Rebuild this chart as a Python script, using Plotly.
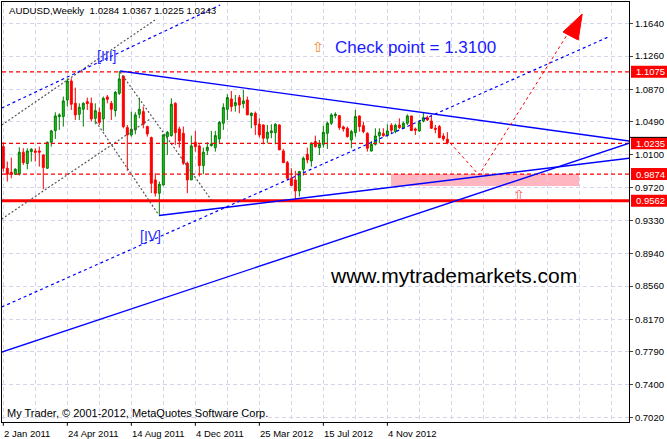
import plotly.graph_objects as go

# ---------------- data ----------------
bars = list(range(112))  # weekly bars, bar 0 = 2 Jan 2011
opens = [1.0197,0.9943,0.9896,0.9873,0.9873,1.0131,0.9998,1.0138,1.0146,1.0146,
         1.0099,0.9943,1.0248,1.0385,1.0549,1.0549,1.0744,1.0967,1.0705,1.0576,
         1.0635,1.0725,1.0705,1.0529,1.0600,1.0522,1.0780,1.0705,1.0619,1.0823,
         1.1026,1.0420,1.0334,1.0393,1.0576,1.0608,1.0432,1.0303,0.9806,0.9650,
         0.9747,1.0314,1.0326,1.0705,1.0404,1.0353,1.0002,0.9806,1.0248,1.0205,
         0.9974,1.0150,1.0209,1.0185,1.0287,1.0471,1.0635,1.0756,1.0678,1.0772,
         1.0701,1.0744,1.0561,1.0588,1.0459,1.0451,1.0295,1.0361,1.0361,1.0451,
         1.0146,1.0009,0.9826,0.9806,0.9677,0.9930,1.0107,1.0029,1.0256,1.0185,
         1.0224,1.0353,1.0471,1.0561,1.0561,1.0428,1.0412,1.0275,1.0361,1.0557,
         1.0443,1.0353,1.0146,1.0224,1.0326,1.0350,1.0326,1.0447,1.0373,1.0451,
         1.0412,1.0471,1.0557,1.0404,1.0381,1.0498,1.0537,1.0498,1.0412,1.0432,
         1.0322,1.0284]
highs = [1.0248,1.0021,1.0068,0.9943,1.0189,1.0178,1.0178,1.0178,1.0178,1.0197,
         1.0107,1.0256,1.0393,1.0600,1.0588,1.0784,1.0999,1.0999,1.0889,1.0705,
         1.0717,1.0772,1.0772,1.0705,1.0655,1.0784,1.0803,1.0733,1.0850,1.1085,
         1.1026,1.0451,1.0608,1.0600,1.0772,1.0666,1.0443,1.0314,0.9884,0.9787,
         1.0342,1.0381,1.0764,1.0717,1.0432,1.0432,1.0021,1.0326,1.0381,1.0224,
         1.0185,1.0248,1.0381,1.0381,1.0498,1.0705,1.0811,1.0850,1.0803,1.0803,
         1.0862,1.0784,1.0600,1.0608,1.0529,1.0459,1.0451,1.0459,1.0471,1.0459,
         1.0170,1.0029,0.9943,0.9912,0.9912,1.0080,1.0185,1.0248,1.0326,1.0275,
         1.0443,1.0490,1.0588,1.0600,1.0569,1.0443,1.0432,1.0393,1.0627,1.0561,
         1.0490,1.0365,1.0264,1.0412,1.0412,1.0412,1.0459,1.0471,1.0467,1.0529,
         1.0490,1.0576,1.0557,1.0420,1.0510,1.0600,1.0561,1.0569,1.0451,1.0451,
         1.0353,1.0367]
lows = [0.9904,0.9787,0.9826,0.9865,0.9857,0.9982,0.9931,1.0021,1.0021,0.9962,
        0.9697,0.9935,1.0197,1.0287,1.0393,1.0432,1.0666,1.0627,1.0510,1.0510,
        1.0432,1.0627,1.0490,1.0459,1.0451,1.0381,1.0705,1.0510,1.0549,1.0803,
        1.0412,0.9912,1.0314,1.0342,1.0529,1.0412,1.0314,0.9650,0.9611,0.9396,
        0.9740,1.0099,1.0314,1.0217,1.0185,0.9982,0.9650,0.9806,1.0138,0.9845,
        0.9873,1.0099,1.0197,1.0138,1.0236,1.0393,1.0510,1.0608,1.0608,1.0588,
        1.0647,1.0569,1.0412,1.0334,1.0303,1.0224,1.0236,1.0295,1.0224,1.0158,
        1.0002,0.9818,0.9740,0.9572,0.9611,0.9857,1.0002,0.9962,1.0185,1.0099,
        1.0185,1.0170,1.0451,1.0529,1.0393,1.0373,1.0303,1.0178,1.0314,1.0373,
        1.0353,1.0138,1.0138,1.0209,1.0236,1.0314,1.0314,1.0353,1.0353,1.0404,
        1.0404,1.0451,1.0381,1.0334,1.0373,1.0482,1.0498,1.0404,1.0353,1.0295,
        1.0264,1.0225]
closes = [0.9943,0.9873,0.9876,0.9931,1.0131,1.0009,1.0146,1.0166,1.0131,1.0131,
          0.9951,1.0248,1.0381,1.0557,1.0569,1.0733,1.0967,1.0694,1.0569,1.0658,
          1.0705,1.0701,1.0522,1.0619,1.0482,1.0764,1.0752,1.0635,1.0834,1.0991,
          1.0432,1.0334,1.0400,1.0569,1.0635,1.0459,1.0346,0.9767,0.9650,0.9755,
          1.0334,1.0365,1.0694,1.0361,1.0264,1.0002,0.9806,1.0205,1.0197,0.9974,
          1.0131,1.0189,1.0228,1.0326,1.0482,1.0655,1.0772,1.0666,1.0713,1.0686,
          1.0733,1.0569,1.0588,1.0451,1.0334,1.0295,1.0365,1.0381,1.0459,1.0158,
          1.0009,0.9826,0.9740,0.9677,0.9904,1.0060,1.0041,1.0236,1.0197,1.0224,
          1.0365,1.0471,1.0569,1.0576,1.0420,1.0404,1.0314,1.0373,1.0549,1.0432,
          1.0373,1.0178,1.0224,1.0322,1.0365,1.0326,1.0381,1.0389,1.0447,1.0420,
          1.0471,1.0557,1.0385,1.0389,1.0482,1.0537,1.0510,1.0412,1.0400,1.0303,
          1.0287,1.0243]

date_label_bars = [0, 16, 32, 48, 64, 80, 96]
date_labels = ['2 Jan 2011', '24 Apr 2011', '14 Aug 2011', '4 Dec 2011',
               '25 Mar 2012', '15 Jul 2012', '4 Nov 2012']
price_ticks = [1.1640, 1.1260, 1.0870, 1.0490, 1.0100, 0.9720, 0.9330,
               0.8940, 0.8560, 0.8170, 0.7790, 0.7400, 0.7020]
dashed_levels = [1.1075, 1.0235, 0.9874]
support_level = 0.9562
boxed_levels = [1.1075, 1.0235, 0.9874, 0.9562]

# drawn objects (bar index, price)
solid_lines = [((29.2, 1.1085), (156.6, 1.0262)),   # triangle upper side
               ((38.9, 0.9388), (156.6, 1.0061)),   # triangle lower side
               ((-0.4, 0.7786), (156.6, 1.0240))]   # long support
blue_dotted = [((-0.4, 1.0650), (54.2, 1.1859)),
               ((-0.4, 0.8314), (151.2, 1.1483))]
gray_dotted = [((-0.4, 1.0450), (37.9, 1.1683)),
               ((-0.4, 0.9347), (36.7, 1.0521)),
               ((23.2, 1.0486), (38.7, 0.9406)),
               ((29.2, 1.1073), (52.2, 0.9558))]
red_path_x = [111.7, 118.9, 141.7]
red_path_y = [1.0240, 0.9864, 1.1566]
arrow_x = [139.9, 143.7, 144.7, 139.9]
arrow_y = [1.1542, 1.1448, 1.1753, 1.1542]
zone_x = (96.9, 143.9)
zone_y = (0.9735, 0.9875)

X0, X1 = -0.325, 156.4
Y0, Y1 = 0.69646, 1.18942


def ypap(p):
    return (p - Y0) / (Y1 - Y0)


def seg_trace(segs, color, width, dash):
    xs, ys = [], []
    for (a, b) in segs:
        xs += [a[0], b[0], None]
        ys += [a[1], b[1], None]
    return go.Scatter(x=xs, y=ys, mode='lines', hoverinfo='skip', showlegend=False,
                      line=dict(color=color, width=width, dash=dash))


fig = go.Figure()

fig.add_trace(go.Candlestick(
    x=bars, open=opens, high=highs, low=lows, close=closes,
    increasing=dict(line=dict(color='#007a00', width=1), fillcolor='#1ec81e'),
    decreasing=dict(line=dict(color='#ff0000', width=1), fillcolor='#ff0000'),
    whiskerwidth=0, showlegend=False, hoverinfo='skip'))

# horizontal levels
hx, hy = [], []
for lv in dashed_levels:
    hx += [X0, X1, None]
    hy += [lv, lv, None]
fig.add_trace(go.Scatter(x=hx, y=hy, mode='lines', hoverinfo='skip', showlegend=False,
                         line=dict(color='#ff0000', width=1.3, dash='4px,3px')))
fig.add_trace(go.Scatter(x=[X0, X1], y=[support_level, support_level], mode='lines',
                         hoverinfo='skip', showlegend=False,
                         line=dict(color='#ff0000', width=3)))

fig.add_trace(seg_trace(gray_dotted, '#555555', 1.2, '2px,2px'))
fig.add_trace(seg_trace(blue_dotted, '#0000ff', 1.2, '3px,3px'))
fig.add_trace(seg_trace(solid_lines, '#0000ff', 1.4, 'solid'))

fig.add_trace(go.Scatter(x=red_path_x, y=red_path_y, mode='lines', hoverinfo='skip',
                         showlegend=False, line=dict(color='#ff0000', width=1, dash='3px,3px')))
fig.add_trace(go.Scatter(x=arrow_x, y=arrow_y, mode='lines', fill='toself',
                         fillcolor='#ff0000', hoverinfo='skip', showlegend=False,
                         line=dict(color='#ff0000', width=1)))

shapes = []
shapes.append(dict(type='rect', xref='x', yref='y', x0=zone_x[0], x1=zone_x[1],
                   y0=zone_y[0], y1=zone_y[1], fillcolor='#ffb6c1',
                   line=dict(width=0), layer='below'))
# price boxes on the right
half = 6.0 / 420 * (Y1 - Y0)
annotations = []
for lv in boxed_levels:
    shapes.append(dict(type='rect', xref='paper', yref='paper', x0=1.0032, x1=1.062,
                       y0=ypap(lv - half), y1=ypap(lv + half), fillcolor='#ff0000',
                       line=dict(width=0), layer='above'))
    annotations.append(dict(xref='paper', yref='y', x=1.0075, y=lv, xanchor='left',
                            yanchor='middle', text='%.4f' % lv, showarrow=False,
                            font=dict(family='Liberation Sans', size=9.5, color='white')))
shapes.append(dict(type='line', xref='paper', yref='paper', x0=1.0, x1=1.062,
                   y0=ypap(1.0235 + half), y1=ypap(1.0235 + half),
                   line=dict(color='black', width=1)))
# small ticks at date labels
for b in date_label_bars:
    shapes.append(dict(type='line', xref='paper', yref='paper',
                       x0=(b - X0) / (X1 - X0), x1=(b - X0) / (X1 - X0),
                       y0=0, y1=-0.009, line=dict(color='black', width=1)))

for b, t in zip(date_label_bars, date_labels):
    annotations.append(dict(xref='x', yref='paper', x=max(b - 0.45, X0 + 0.05), y=-0.027,
                            xanchor='left', yanchor='middle', text=t, showarrow=False,
                            font=dict(family='Liberation Sans', size=9.5, color='black')))

annotations += [
    dict(xref='paper', yref='paper', x=0.008, y=0.9786, xanchor='left', yanchor='middle',
         text='AUDUSD,Weekly\u00a0\u00a01.0284 1.0367 1.0225 1.0243', showarrow=False,
         font=dict(family='Liberation Sans', size=9.7, color='black')),
    dict(xref='paper', yref='paper', x=0.0048, y=0.0214, xanchor='left', yanchor='middle',
         text='My Trader, \u00a9 2001-2012, MetaQuotes Software Corp.', showarrow=False,
         font=dict(family='Liberation Sans', size=11, color='black')),
    dict(xref='x', yref='y', x=25.9, y=1.1260, text='[III]', showarrow=False,
         font=dict(family='Liberation Sans', size=14, color='#2a2aff')),
    dict(xref='x', yref='y', x=36.7, y=0.9148, text='[IV]', showarrow=False,
         font=dict(family='Liberation Sans', size=14, color='#2a2aff')),
    dict(xref='x', yref='y', x=78.7, y=1.1366, text='\u21e7', showarrow=False,
         font=dict(family='DejaVu Sans', size=14, color='#e88a2a')),
    dict(xref='x', yref='y', x=82.4, y=1.1366, xanchor='left', text='Check point = 1.3100',
         showarrow=False, font=dict(family='Liberation Sans', size=17, color='#1a1aff')),
    dict(xref='x', yref='y', x=128.9, y=0.9629, text='\u21e7', showarrow=False,
         font=dict(family='DejaVu Sans', size=14, color='#ff5a5a')),
    dict(xref='x', yref='y', x=112.5, y=0.8690, text='www.mytrademarkets.com',
         showarrow=False, font=dict(family='Liberation Sans', size=21, color='black')),
]

grid = dict(showgrid=True, gridcolor='#d4d4ec', gridwidth=1, griddash='4px,3px')

fig.update_layout(
    width=667, height=439,
    margin=dict(l=2, r=38, t=2, b=17),
    paper_bgcolor='white', plot_bgcolor='white',
    showlegend=False,
    shapes=shapes, annotations=annotations,
    xaxis=dict(range=[X0, X1], tickmode='array', tickvals=list(range(0, 157, 8)),
               showticklabels=False, ticks='', zeroline=False,
               showline=True, mirror=True, linecolor='black', linewidth=1,
               rangeslider=dict(visible=False), fixedrange=True, **grid),
    yaxis=dict(range=[Y0, Y1], side='right', tickmode='array', tickvals=price_ticks,
               ticktext=['%.4f' % v for v in price_ticks], ticks='outside', ticklen=3,
               tickcolor='#444', zeroline=False,
               tickfont=dict(family='Liberation Sans', size=9.5, color='black'),
               showline=True, mirror=True, linecolor='black', linewidth=1,
               fixedrange=True, **grid),
)

fig.write_html('out.html', config={'displayModeBar': False},
               post_script="document.body.style.margin='0px';document.body.style.overflow='hidden';")
